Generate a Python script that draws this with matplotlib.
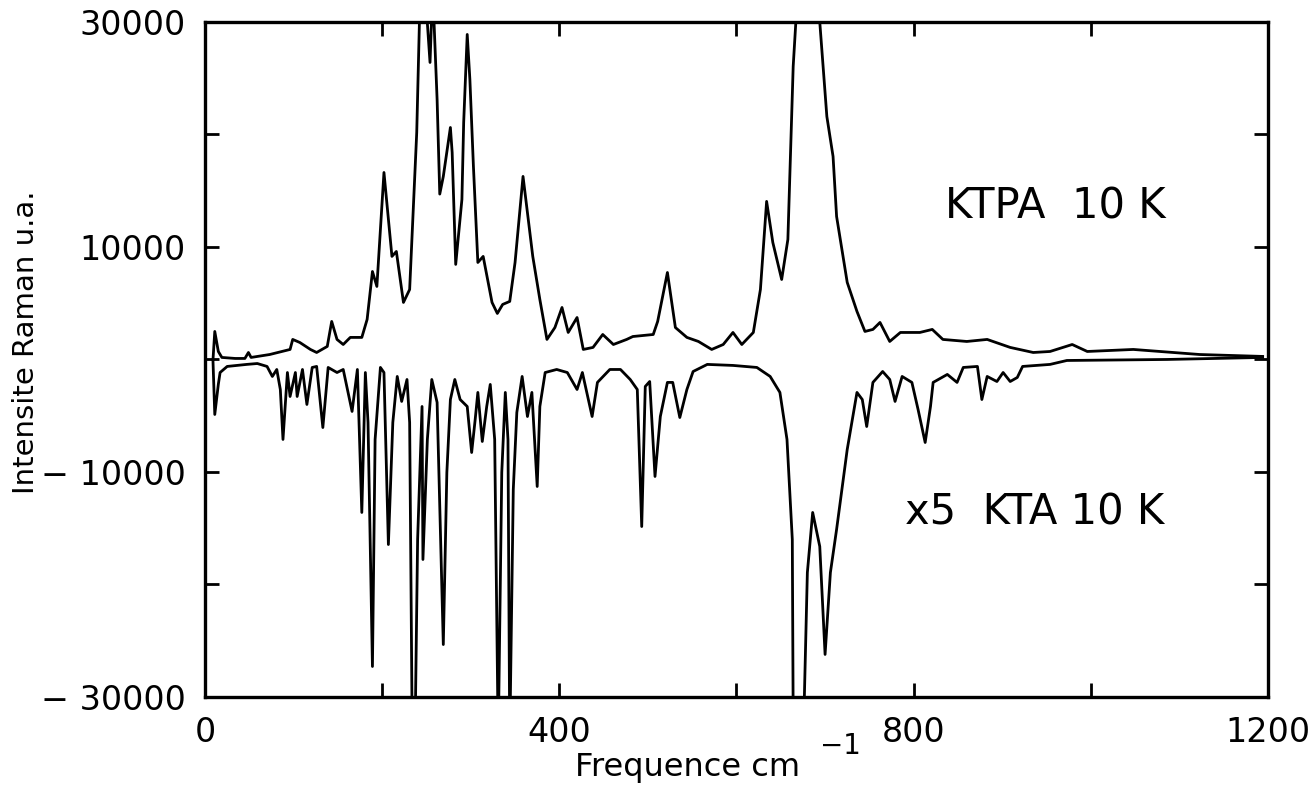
import matplotlib
matplotlib.use("Agg")
import matplotlib.pyplot as plt
from matplotlib.ticker import FixedLocator, FuncFormatter

# KTPA 10 K (upper spectrum)
ktpa_freq = [9, 11, 15, 19, 34, 45, 49, 52, 73, 96, 99, 107, 119, 126, 138, 143, 149, 156,
             164, 177, 183, 189, 194, 202, 211, 216, 224, 231, 239, 242, 244, 254, 257, 262,
             265, 269, 277, 279, 283, 290, 292, 296, 299, 303, 308, 314, 324, 330, 336, 344,
             350, 359, 370, 378, 386, 395, 403, 410, 420, 427, 438, 449, 461, 476, 483, 506,
             511, 522, 531, 544, 557, 572, 585, 596, 606, 619, 627, 634, 641, 651, 658, 664,
             667, 677, 689, 694, 702, 709, 713, 725, 736, 745, 754, 762, 773, 785, 807, 821,
             833, 860, 883, 909, 935, 954, 979, 996, 1048, 1093, 1123, 1194]
ktpa_int = [0, 2490, 710, 180, 90, 90, 620, 180, 440, 890, 1780, 1510, 890, 620, 1160, 3380,
            1780, 1330, 1960, 1960, 3560, 7820, 6490, 16620, 9160, 9600, 5070, 6220, 20180,
            29870, 38000, 26400, 33000, 23100, 14700, 16270, 20620, 18400, 8450, 14220, 21070,
            28890, 24890, 17160, 8620, 9160, 5070, 4090, 4890, 5160, 8620, 16270, 9160, 5330,
            1780, 2840, 4620, 2400, 3730, 890, 1070, 2220, 1330, 1780, 2040, 2220, 3380, 7730,
            2840, 1960, 1600, 890, 1330, 2400, 1330, 2400, 6220, 14050, 10400, 7110, 10670,
            26050, 30000, 42000, 40000, 30000, 21600, 18050, 12710, 6850, 4270, 2490, 2670,
            3290, 1600, 2400, 2400, 2670, 1780, 1600, 1780, 1070, 620, 710, 1330, 710, 890,
            620, 440, 270]

# x5 KTA 10 K (lower spectrum, drawn inverted)
kta_freq = [9, 11, 15, 17, 25, 47, 59, 70, 76, 81, 85, 88, 93, 96, 102, 104, 110, 115, 121,
            126, 133, 139, 149, 156, 166, 172, 177, 181, 184, 189, 192, 198, 202, 207, 212,
            217, 222, 228, 231, 234, 237, 240, 245, 246, 251, 256, 262, 269, 273, 277, 282,
            288, 296, 301, 305, 308, 313, 318, 322, 327, 331, 335, 339, 342, 344, 348, 352,
            358, 364, 369, 375, 378, 384, 397, 409, 420, 426, 437, 443, 457, 469, 480, 488,
            493, 497, 502, 508, 514, 522, 528, 536, 544, 551, 567, 596, 623, 638, 649, 657,
            660, 663, 664, 672, 676, 680, 686, 694, 700, 706, 713, 725, 736, 742, 747, 754,
            765, 773, 779, 787, 798, 805, 813, 819, 822, 838, 849, 856, 872, 877, 883, 894,
            901, 909, 917, 923, 954, 973, 1086, 1194]
kta_int = [-180, -4890, -2220, -1160, -620, -440, -360, -620, -1510, -890, -2670, -7110,
           -1160, -3290, -1160, -3290, -890, -4000, -710, -620, -6050, -710, -1160, -890,
           -4620, -890, -13600, -1160, -5600, -27290, -7110, -710, -1160, -16450, -5600,
           -1510, -3730, -1780, -5600, -34000, -34000, -16000, -4180, -17780, -7110, -1780,
           -3820, -25340, -10050, -3560, -1780, -3560, -4180, -8270, -5330, -2930, -7290,
           -4180, -2220, -7110, -34000, -10050, -2930, -7110, -34000, -11560, -4710, -1510,
           -5070, -2930, -11290, -4180, -1160, -890, -1160, -2670, -1160, -5070, -2040, -890,
           -890, -1780, -2670, -14850, -2400, -1960, -10400, -5070, -2040, -2040, -5160,
           -2670, -1070, -440, -530, -710, -1510, -2930, -7110, -11560, -16000, -32000,
           -40000, -32000, -18940, -13600, -16620, -26220, -18940, -15110, -8000, -2930,
           -3560, -5960, -2040, -1070, -1780, -3730, -1510, -2040, -4450, -7380, -4180,
           -2040, -1330, -2040, -710, -620, -3560, -1510, -1960, -1160, -1960, -1600, -620,
           -440, -90, 0, 180]

y_ticks = [-30000, -20000, -10000, 0, 10000, 20000, 30000]
y_labeled = [-30000, -10000, 10000, 30000]
x_ticks = [0, 200, 400, 600, 800, 1000, 1200]
x_labeled = [0, 400, 800, 1200]

plt.rcParams['font.family'] = ['DejaVu Sans']

fig = plt.figure(figsize=(13.16, 7.87), dpi=100)
ax = fig.add_axes([0.1558, 0.1144, 0.8077, 0.8577])

ax.plot(ktpa_freq, ktpa_int, color='black', linewidth=2.0)
ax.plot(kta_freq, kta_int, color='black', linewidth=2.0)

ax.set_xlim(0, 1200)
ax.set_ylim(-30000, 30000)

ax.xaxis.set_major_locator(FixedLocator(x_ticks))
ax.yaxis.set_major_locator(FixedLocator(y_ticks))
ax.xaxis.set_major_formatter(FuncFormatter(lambda v, p: f"{int(v)}" if int(v) in x_labeled else ""))
ax.yaxis.set_major_formatter(FuncFormatter(
    lambda v, p: (f"{int(v)}" if v > 0 else f"\u2212 {int(-v)}") if int(v) in y_labeled else ""))

ax.tick_params(direction='in', length=10, width=2, top=True, right=True, labelsize=24)
ax.tick_params(axis='y', pad=14)
ax.tick_params(axis='x', pad=14)
for s in ax.spines.values():
    s.set_linewidth(2.4)

ax.set_ylabel('Intensite Raman u.a.', fontsize=21)
ax.yaxis.set_label_coords(-0.155, 0.526)
ax.set_xlabel('Frequence cm', fontsize=23)
ax.xaxis.set_label_coords(0.454, -0.082)
ax.text(0.579, -0.073, '\u22121', transform=ax.transAxes, fontsize=20, ha='left', va='center')

ax.text(835, 13600, 'KTPA  10 K', fontsize=30, ha='left', va='center')
ax.text(790, -13600, 'x5  KTA 10 K', fontsize=30, ha='left', va='center')

fig.savefig('out.png', dpi=100)
